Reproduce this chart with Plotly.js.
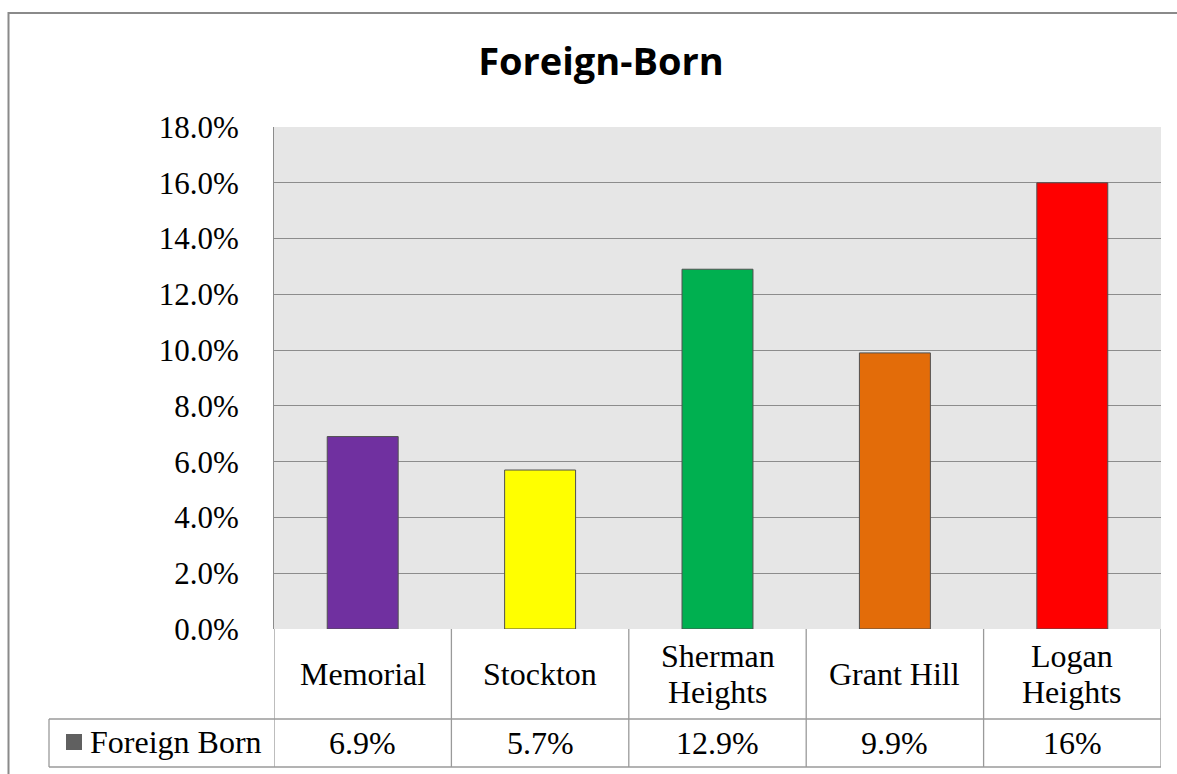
<!DOCTYPE html>
<html><head><meta charset="utf-8">
<script src="https://cdn.plot.ly/plotly-3.0.1.min.js"></script>
<style>html,body{margin:0;padding:0;background:#fff;}#chart{width:1177px;height:774px;}</style>
</head><body><div id="chart"></div>
<script>
const categories = ['Memorial', 'Stockton', 'Sherman Heights', 'Grant Hill', 'Logan Heights'];
const categoryLabels = ['Memorial', 'Stockton', 'Sherman<br>Heights', 'Grant Hill', 'Logan<br>Heights'];
const foreignBorn = [6.9, 5.7, 12.9, 9.9, 16];
const valueLabels = ['6.9%', '5.7%', '12.9%', '9.9%', '16%'];
const barColors = ['#7030A0', '#FFFF00', '#00B050', '#E36C09', '#FF0000'];
const seriesName = 'Foreign Born';
const chartTitle = 'Foreign-Born';

const W = 1177, H = 774;
const L = 274, R = 16, T = 127, B = 145;
const pw = W - L - R, ph = H - T - B;
const px = v => (v - L) / pw;          // pixel x -> paper
const py = v => (H - B - v) / ph;      // pixel y -> paper

const row1 = py(719), row2 = py(767), legLeft = px(49);
const lineStyle = {color: '#9a9a9a', width: 1.3};
const shapes = [];
for (let i = 0; i <= categories.length; i++) {
  shapes.push({type: 'line', xref: 'x', yref: 'paper', x0: i - 0.5, x1: i - 0.5, y0: 0, y1: row2, line: lineStyle});
}
shapes.push({type: 'line', xref: 'paper', yref: 'paper', x0: legLeft, x1: 1, y0: row1, y1: row1, line: lineStyle});
shapes.push({type: 'line', xref: 'paper', yref: 'paper', x0: legLeft, x1: 1, y0: row2, y1: row2, line: lineStyle});
shapes.push({type: 'line', xref: 'paper', yref: 'paper', x0: legLeft, x1: legLeft, y0: row1, y1: row2, line: lineStyle});
shapes.push({type: 'rect', xref: 'paper', yref: 'paper', x0: px(66), x1: px(82), y0: py(750), y1: py(734), fillcolor: '#606060', line: {width: 0}});
shapes.push({type: 'rect', xref: 'paper', yref: 'paper', x0: px(8.5), x1: px(1190), y0: py(800), y1: py(13), line: {color: '#8a8a8a', width: 2}, layer: 'below'});

const annotations = [];
const tfont = {family: 'Liberation Serif', size: 32, color: '#000'};
categories.forEach((c, i) => {
  const lines = categoryLabels[i].split('<br>');
  const lineGap = 36;
  lines.forEach((ln, k) => {
    const yc = 674 + (k - (lines.length - 1) / 2) * lineGap;
    annotations.push({xref: 'x', yref: 'paper', x: i, y: py(yc), text: ln, showarrow: false, font: tfont, xanchor: 'center', yanchor: 'middle'});
  });
  annotations.push({xref: 'x', yref: 'paper', x: i, y: py(743), text: valueLabels[i], showarrow: false, font: tfont, xanchor: 'center', yanchor: 'middle'});
});
annotations.push({xref: 'paper', yref: 'paper', x: px(88), y: py(742), text: seriesName, showarrow: false, font: tfont, xanchor: 'left', yanchor: 'middle'});

const data = [{
  type: 'bar', x: categories, y: foreignBorn, name: seriesName,
  marker: {color: barColors, line: {color: '#505050', width: 1}},
  width: 0.4, hoverinfo: 'x+y'
}];

const layout = {
  width: W, height: H,
  margin: {l: L, r: R, t: T, b: B, pad: 0},
  paper_bgcolor: '#ffffff', plot_bgcolor: '#E6E6E6',
  showlegend: false,
  title: {text: '<b>' + chartTitle + '</b>', x: 601 / W, xanchor: 'center', y: 1 - 62 / H, yanchor: 'middle',
          xref: 'container', yref: 'container', font: {family: 'Open Sans', size: 38, color: '#000'}},
  xaxis: {type: 'category', range: [-0.5, 4.5], showticklabels: false, showgrid: false, zeroline: false, showline: false, ticks: ''},
  yaxis: {range: [0, 18], dtick: 2, tick0: 0, tickformat: '.1f', ticksuffix: '%', showgrid: true, gridcolor: '#8c8c8c', gridwidth: 1,
          zeroline: false, showline: true, linecolor: '#8c8c8c', linewidth: 1, ticks: '', ticklabelstandoff: 28,
          tickfont: {family: 'Liberation Serif', size: 31, color: '#000'}},
  shapes: shapes, annotations: annotations
};
Plotly.newPlot('chart', data, layout, {displayModeBar: false, staticPlot: true});
</script></body></html>
